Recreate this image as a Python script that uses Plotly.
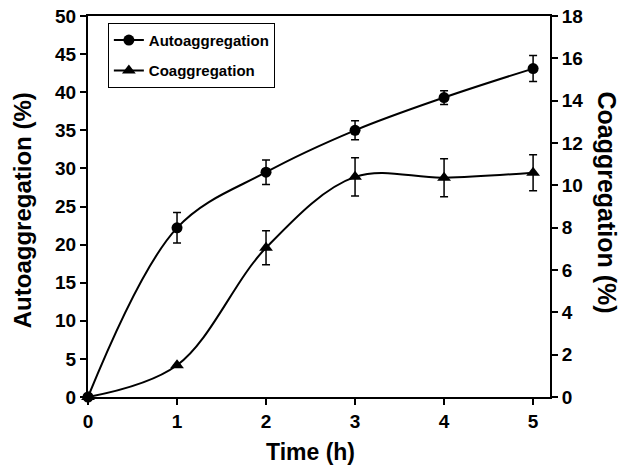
import plotly.graph_objects as go

time_h = [0, 1, 2, 3, 4, 5]
auto_vals = [0, 22.2, 29.5, 35.0, 39.3, 43.1]
auto_err = [0, 2.0, 1.6, 1.25, 0.9, 1.7]
coag_vals = [0, 1.5, 7.05, 10.4, 10.36, 10.6]
coag_err = [0, 0, 0.8, 0.9, 0.9, 0.85]

x_ticks = [0, 1, 2, 3, 4, 5]
y_ticks = [0, 5, 10, 15, 20, 25, 30, 35, 40, 45, 50]
y2_ticks = [0, 2, 4, 6, 8, 10, 12, 14, 16, 18]

FONT = "Liberation Sans, Arial, sans-serif"

fig = go.Figure()
fig.add_trace(go.Scatter(
    x=time_h, y=auto_vals, name="<b>Autoaggregation</b>", mode="lines+markers",
    line=dict(color="black", width=2, shape="spline", smoothing=1),
    marker=dict(symbol="circle", size=11, color="black"),
    error_y=dict(type="data", array=auto_err, visible=True, color="black", thickness=1.5, width=4),
    cliponaxis=False, legendgroup="a",
))
fig.add_trace(go.Scatter(
    x=time_h, y=coag_vals, name="<b>Coaggregation</b>", mode="lines+markers", yaxis="y2",
    line=dict(color="black", width=2, shape="spline", smoothing=1),
    marker=dict(symbol="triangle-up", size=12, color="black"),
    error_y=dict(type="data", array=coag_err, visible=True, color="black", thickness=1.5, width=4),
    cliponaxis=False, legendgroup="b",
))

tickfont = dict(family=FONT, size=19, color="black")
fig.update_layout(
    width=632, height=467,
    margin=dict(l=88, r=82, t=16, b=70, autoexpand=False),
    paper_bgcolor="white", plot_bgcolor="white",
    font=dict(family=FONT, color="black"),
    showlegend=True,
    legend=dict(
        x=0.043, y=0.982, xanchor="left", yanchor="top",
        bordercolor="black", borderwidth=1, bgcolor="white",
        font=dict(family=FONT, size=15, color="black"),
        traceorder="grouped", tracegroupgap=8,
        entrywidth=137, entrywidthmode="pixels",
    ),
    xaxis=dict(
        range=[0, 5.19], tickvals=x_ticks, ticktext=[f"<b>{v}</b>" for v in x_ticks],
        showgrid=False, zeroline=False, showline=True, linecolor="black", linewidth=2,
        mirror=True, ticks="outside", ticklen=6, tickwidth=1.5, tickcolor="black",
        tickfont=tickfont, automargin=False,
    ),
    yaxis=dict(
        range=[0, 50], tickvals=y_ticks, ticktext=[f"<b>{v}</b>" for v in y_ticks],
        showgrid=False, zeroline=False, showline=True, linecolor="black", linewidth=2,
        ticks="outside", ticklen=6, tickwidth=1.5, tickcolor="black",
        tickfont=tickfont, automargin=False,
    ),
    yaxis2=dict(
        range=[0, 18], tickvals=y2_ticks, ticktext=[f"<b>{v}</b>" for v in y2_ticks],
        overlaying="y", side="right",
        showgrid=False, zeroline=False, showline=True, linecolor="black", linewidth=2,
        ticks="outside", ticklen=6, tickwidth=1.5, tickcolor="black",
        tickfont=tickfont, automargin=False,
    ),
)

fig.add_annotation(text="<b>Time (h)</b>", xref="paper", yref="paper", x=0.482, y=-0.144,
                   xanchor="center", yanchor="middle", showarrow=False,
                   font=dict(family=FONT, size=23, color="black"))
fig.add_annotation(text="<b>Autoaggregation (%)</b>", xref="paper", yref="paper", x=-0.143, y=0.49,
                   xanchor="center", yanchor="middle", textangle=-90, showarrow=False,
                   font=dict(family=FONT, size=24, color="black"))
fig.add_annotation(text="<b>Coaggregation (%)</b>", xref="paper", yref="paper", x=1.124, y=0.51,
                   xanchor="center", yanchor="middle", textangle=90, showarrow=False,
                   font=dict(family=FONT, size=25, color="black"))

fig.write_html("out.html", config={"displayModeBar": False},
               post_script="document.body.style.margin='0';")
